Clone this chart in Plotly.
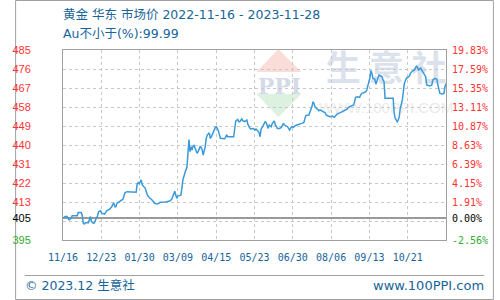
import pandas as pd
import plotly.graph_objects as go

# ---------------- data ----------------
start_date = "2022-11-16"
end_date = "2023-11-28"

day_offsets = [0, 2, 4, 5, 6, 8, 9, 14, 15, 18, 19, 20, 21, 22, 25, 27, 28, 30, 31, 32,
               34, 35, 37, 38, 41, 42, 43, 46, 48, 49, 50, 51, 52, 53, 56, 59, 60, 61, 63, 72,
               73, 74, 75, 77, 78, 79, 81, 82, 83, 85, 87, 89, 90, 93, 96, 101, 105, 107, 108, 109,
               110, 111, 112, 113, 116, 117, 118, 120, 121, 122, 123, 124, 125, 126, 127, 128, 129, 130, 131, 132,
               133, 134, 135, 136, 137, 138, 139, 140, 141, 142, 144, 145, 146, 147, 148, 149, 150, 151, 152, 153,
               154, 155, 159, 160, 161, 162, 168, 169, 170, 172, 173, 174, 176, 177, 179, 181, 182, 184, 185, 187,
               189, 190, 192, 193, 194, 195, 197, 199, 200, 201, 202, 203, 205, 206, 208, 209, 210, 211, 213, 215,
               216, 217, 218, 220, 221, 223, 224, 225, 227, 228, 230, 233, 235, 237, 238, 239, 242, 243, 245, 246,
               247, 248, 250, 252, 253, 254, 256, 258, 259, 261, 263, 265, 267, 269, 270, 273, 275, 278, 280, 281,
               283, 286, 287, 288, 290, 292, 293, 294, 296, 298, 299, 300, 302, 303, 304, 305, 307, 308, 310, 311,
               313, 314, 315, 316, 317, 325, 326, 327, 329, 330, 331, 332, 334, 335, 336, 338, 339, 341, 342, 344,
               346, 347, 348, 349, 350, 352, 353, 355, 357, 358, 361, 363, 364, 366, 368, 369, 371, 374, 375, 376,
               377]

prices = [405.0, 405.8, 405.8, 404.7, 404.2, 405.0, 406.2, 406.2, 407.7, 407.7, 406.2, 402.6, 402.3, 402.9, 402.9, 405.8, 403.4, 402.6, 402.9, 404.2,
          406.1, 408.1, 408.6, 407.4, 407.0, 407.8, 408.6, 409.4, 410.5, 411.7, 412.1, 410.5, 410.5, 412.1, 413.2, 414.1, 415.6, 417.2, 417.7, 417.4,
          421.4, 422.0, 421.4, 423.3, 420.9, 420.4, 419.3, 417.7, 416.1, 414.8, 414.1, 412.9, 412.1, 411.8, 412.6, 412.8, 413.2, 414.1, 415.3, 416.1,
          417.9, 416.1, 414.5, 415.6, 416.0, 419.3, 423.3, 426.7, 428.8, 429.3, 436.0, 442.6, 436.8, 439.2, 437.6, 439.5, 439.8, 438.7, 437.6, 436.0,
          436.8, 438.4, 439.2, 438.9, 437.6, 435.2, 436.8, 439.2, 443.2, 444.7, 445.8, 443.2, 443.9, 445.1, 446.3, 447.1, 448.4, 448.7, 447.9, 446.8,
          444.7, 443.2, 443.0, 443.6, 444.9, 443.9, 443.9, 447.9, 451.4, 452.2, 451.1, 451.1, 452.4, 451.6, 451.1, 451.9, 449.8, 447.9, 447.5, 447.9,
          447.1, 447.6, 446.3, 446.0, 443.9, 447.5, 449.2, 451.1, 450.6, 448.7, 447.9, 449.5, 448.7, 450.3, 451.4, 449.5, 449.0, 447.9, 447.9, 448.4,
          449.5, 450.3, 449.5, 449.0, 448.7, 447.1, 447.9, 448.7, 448.4, 449.0, 449.5, 449.8, 450.3, 450.6, 451.9, 454.0, 454.3, 455.4, 458.2, 460.6,
          459.9, 458.2, 457.2, 456.3, 456.7, 456.3, 455.9, 455.4, 454.3, 453.8, 453.5, 453.8, 453.2, 454.3, 454.8, 455.4, 455.9, 456.7, 457.2, 458.0,
          458.6, 459.1, 460.6, 462.7, 463.0, 462.7, 463.8, 464.6, 464.9, 465.4, 466.2, 467.8, 471.8, 475.5, 474.2, 471.8, 471.3, 469.0, 472.9, 473.4,
          472.9, 472.6, 471.0, 470.2, 462.3, 462.3, 455.1, 452.7, 451.1, 451.9, 453.5, 457.5, 461.4, 465.4, 469.4, 471.8, 472.3, 472.9, 474.2, 475.3,
          475.8, 476.6, 477.7, 476.9, 475.8, 476.6, 475.8, 474.2, 472.6, 468.6, 468.1, 468.6, 471.0, 471.8, 471.3, 468.6, 464.6, 464.3, 464.6, 467.8,
          469.3]

base_price = 405
pct_ticks = [-2.56, 0.00, 1.91, 4.15, 6.39, 8.63, 10.87, 13.11, 15.35, 17.59, 19.83]
price_tick_labels = ["395", "405", "413", "422", "431", "440", "449", "458", "467", "476", "485"]
x_tick_labels = ["11/16", "12/23", "01/30", "03/09", "04/15", "05/23", "06/30", "08/06", "09/13", "10/21"]

title_text = "黄金 华东 市场价 2022-11-16 - 2023-11-28"
subtitle_text = "Au不小于(%):99.99"
footer_left = "© 2023.12 生意社"
footer_right = "www.100PPI.com"

# ---------------- derived ----------------
t0 = pd.Timestamp(start_date)
t1 = pd.Timestamp(end_date)
dates = t0 + pd.to_timedelta(day_offsets, unit="D")
span = t1 - t0
x_tickvals = [t0 + span * k / 10 for k in range(10)]

pct_lo, pct_hi = min(pct_ticks), max(pct_ticks)
price_lo = base_price * (1 + pct_lo / 100)
price_hi = base_price * (1 + pct_hi / 100)
price_tickvals = [base_price * (1 + p / 100) for p in pct_ticks]
grid_vals = [pct_lo + k * (pct_hi - pct_lo) / 10 for k in range(11)]

RED, BLACK, GREEN = "#ff3333", "#000000", "#33aa33"
def col(p):
    return RED if p > 0 else (BLACK if p == 0 else GREEN)

left_text = [f'<span style="color:{col(p)}">{t}</span>' for p, t in zip(pct_ticks, price_tick_labels)]
right_text = [f'<span style="color:{col(p)}">{p:.2f}%</span>' for p in pct_ticks]

W, H = 500, 300
ML, MR, MT, MB = 50, 50, 50, 60
PW, PH = W - ML - MR, H - MT - MB
def PX(x):
    return (x - ML) / PW
def PY(y):
    return (H - MB - y) / PH

BLUE_TEXT = "#17649a"
TXT = "DejaVu Sans, Noto Sans CJK SC"
CJK = "Noto Sans CJK SC"

fig = go.Figure()
fig.add_trace(go.Scatter(x=list(dates), y=prices, mode="lines",
                         line=dict(color="#3a9ad9", width=1.5), hoverinfo="skip",
                         showlegend=False))
fig.add_trace(go.Scatter(x=[None], y=[None], yaxis="y2", showlegend=False, hoverinfo="skip"))
fig.add_trace(go.Scatter(x=[None], y=[None], yaxis="y3", showlegend=False, hoverinfo="skip"))

fig.update_layout(
    width=W, height=H, margin=dict(l=ML, r=MR, t=MT, b=MB, pad=0),
    paper_bgcolor="white", plot_bgcolor="white", showlegend=False,
    xaxis=dict(type="date", range=[t0, t1], tickvals=x_tickvals, ticktext=x_tick_labels,
               showgrid=True, gridcolor="#c8c8c8", griddash="3px,3px", gridwidth=1,
               showline=True, linecolor="#a0a0a0", linewidth=1, mirror=True,
               ticks="outside", ticklen=8, tickcolor="rgba(0,0,0,0)",
               tickfont=dict(family="DejaVu Sans Mono", size=10, color=BLUE_TEXT),
               zeroline=False, fixedrange=True),
    yaxis=dict(range=[price_lo, price_hi], tickvals=price_tickvals, ticktext=left_text,
               showgrid=False, zeroline=False,
               showline=True, linecolor="#a0a0a0", linewidth=1, mirror=True,
               ticks="outside", ticklen=29, tickcolor="rgba(0,0,0,0)",
               tickfont=dict(family="Liberation Sans", size=11), fixedrange=True),
    yaxis2=dict(range=[pct_lo, pct_hi], overlaying="y", side="right", anchor="x",
                tickvals=pct_ticks, ticktext=right_text, showgrid=False,
                zeroline=True, zerolinecolor="#9a9a9a", zerolinewidth=2,
                ticks="outside", ticklen=3, tickcolor="rgba(0,0,0,0)",
                tickfont=dict(family="DejaVu Sans Mono", size=10), fixedrange=True),
    yaxis3=dict(range=[pct_lo, pct_hi], overlaying="y", side="left", anchor="x",
                tickvals=grid_vals, showticklabels=False, ticks="",
                showgrid=True, gridcolor="#c8c8c8", griddash="3px,3px", gridwidth=1,
                zeroline=False, fixedrange=True),
)

shapes = [
    # outer border
    dict(type="rect", xref="paper", yref="paper", x0=PX(0.5), x1=PX(W - 0.5), y0=PY(H - 0.5), y1=PY(0.5),
         line=dict(color="#a0a0a0", width=1), fillcolor="rgba(0,0,0,0)", layer="below"),
    # footer separator
    dict(type="line", xref="paper", yref="paper", x0=PX(10), x1=PX(490), y0=PY(275.5), y1=PY(275.5),
         line=dict(color="#a0a0a0", width=1)),
    # watermark logo triangles
    dict(type="path", xref="paper", yref="paper", layer="below",
         path=f"M {PX(275)},{PY(49)} L {PX(299)},{PY(72)} L {PX(252)},{PY(72)} Z",
         fillcolor="rgba(240,140,130,0.30)", line=dict(width=0)),
    dict(type="path", xref="paper", yref="paper", layer="below",
         path=f"M {PX(252)},{PY(94)} L {PX(299)},{PY(94)} L {PX(275)},{PY(117)} Z",
         fillcolor="rgba(140,210,150,0.30)", line=dict(width=0)),
    # watermark texts
    dict(type="rect", xref="paper", yref="paper", layer="below", x0=PX(252), x1=PX(300), y0=PY(96), y1=PY(73),
         line=dict(width=0), fillcolor="rgba(0,0,0,0)",
         label=dict(text="<b>PPI</b>", textposition="middle center",
                    font=dict(family="DejaVu Serif", size=22, color="#d3dbe9"))),
    dict(type="rect", xref="paper", yref="paper", layer="below", x0=PX(320), x1=PX(455), y0=PY(90), y1=PY(52),
         line=dict(width=0), fillcolor="rgba(0,0,0,0)",
         label=dict(text="<b>生 意 社</b>", textposition="middle center",
                    font=dict(family=CJK, size=35, color="#dce2ec"))),
    dict(type="rect", xref="paper", yref="paper", layer="below", x0=PX(320), x1=PX(455), y0=PY(115), y1=PY(98),
         line=dict(width=0), fillcolor="rgba(0,0,0,0)",
         label=dict(text="WWW.100PPI.COM", textposition="middle center",
                    font=dict(family="Liberation Sans", size=15, color="#ebebeb"))),
]
fig.update_layout(shapes=shapes)

annotations = [
    dict(text=title_text, xref="paper", yref="paper", x=PX(48), y=PY(14.5), xanchor="left", yanchor="middle",
         showarrow=False, font=dict(family=TXT, size=12.5, color=BLUE_TEXT)),
    dict(text=subtitle_text, xref="paper", yref="paper", x=PX(48), y=PY(34), xanchor="left", yanchor="middle",
         showarrow=False, font=dict(family=TXT, size=12.5, color=BLUE_TEXT)),
    dict(text=footer_left, xref="paper", yref="paper", x=PX(8), y=PY(285), xanchor="left", yanchor="middle",
         showarrow=False, font=dict(family=TXT, size=12.5, color=BLUE_TEXT)),
    dict(text=footer_right, xref="paper", yref="paper", x=PX(492), y=PY(285), xanchor="right", yanchor="middle",
         showarrow=False, font=dict(family=TXT, size=13, color=BLUE_TEXT)),
]
fig.update_layout(annotations=annotations)

fig.write_html("out.html", config={"displayModeBar": False, "staticPlot": True})
